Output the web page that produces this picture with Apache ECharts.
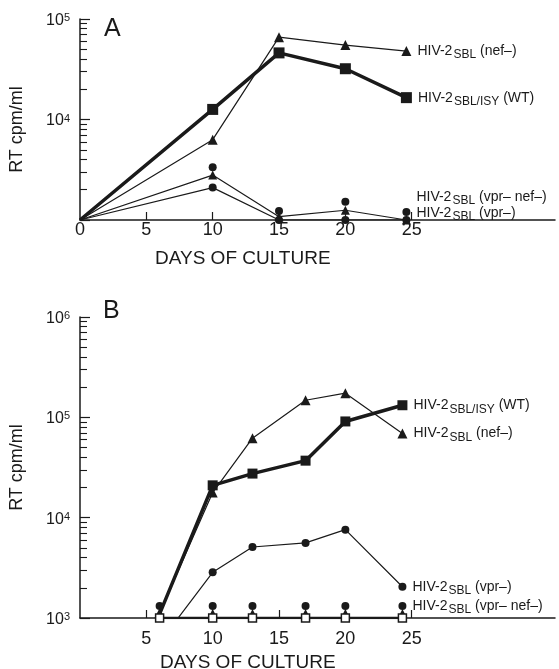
<!DOCTYPE html>
<html>
<head>
<meta charset="utf-8">
<script src="https://cdn.jsdelivr.net/npm/echarts@6/dist/echarts.min.js"></script>
<style>
html,body{margin:0;padding:0;background:#fff;}
#chart{width:559px;height:669px;}
</style>
</head>
<body>
<div id="chart"></div>
<script>
// ---------- Panel A data ----------
const daysA = [0, 10, 15, 20, 24.6];
const aWT = [1000, 12600, 46000, 32000, 16500];
const aNef = [1000, 6300, 66000, 55000, 48000];
const aVprNefLine = [1000, 2800, 1080, 1250, 1000];
const aVprNefPts = [null, 3350, 1230, 1520, 1200];
const aVpr = [1000, 2100, 1000, 1000, 1000];

// ---------- Panel B data ----------
const daysB = [6, 10, 13, 17, 20, 24.3];
const bWT = [1100, 21000, 27500, 37000, 91000, 132000];
const bNef = [1120, 17800, 62000, 148000, 174000, 69000];
const bVpr = [570, 2850, 5100, 5600, 7600, 2050];
const bVprNef = [1320, 1320, 1320, 1320, 1320, 1320];
const bTri = [1120, 1120, 1120, 1120, 1120, 1120];
const bOpen = [1000, 1000, 1000, 1000, 1000, 1000];

// ---------- ticks ----------
const xLabelsA = [0, 5, 10, 15, 20, 25];
const xLabelsB = [5, 10, 15, 20, 25];
const xTicks = [5, 10, 15, 20, 25];
const expA = [4, 5];
const expB = [3, 4, 5, 6];
const minorMult = [2, 3, 4, 5, 6, 7, 8, 9];

const INK = '#1a1a1a';
const FONT = "'Liberation Sans', Arial, Helvetica, sans-serif";

function minorTicks(lo, hi) {
  const out = [];
  for (let e = lo; e < hi; e++) minorMult.forEach(m => out.push(e + Math.log10(m)));
  return out;
}
function pairs(xs, ys, noSymbolFirst) {
  const out = [];
  xs.forEach((x, i) => {
    if (ys[i] == null) return;
    const item = { value: [x, ys[i]] };
    if (noSymbolFirst && i === 0) item.symbol = 'none';
    out.push(item);
  });
  return out;
}
function hiv(sub, tag) {
  return '{a|HIV-2}{s|' + sub + '}{t| ' + tag + '}';
}
const labelRich = {
  a: { fontSize: 14, color: INK, fontFamily: FONT, verticalAlign: 'bottom' },
  s: { fontSize: 12, color: INK, fontFamily: FONT, verticalAlign: 'bottom', padding: [0, 0, -3, 1] },
  t: { fontSize: 14, color: INK, fontFamily: FONT, verticalAlign: 'bottom' }
};
function withEndLabel(data, text, offset, dist) {
  const last = data[data.length - 1];
  last.label = {
    show: true, position: 'right', distance: dist == null ? 6 : dist,
    offset: offset || [0, 0], formatter: text, rich: labelRich
  };
  return data;
}

function xAxis(grid, labels, margin) {
  return {
    type: 'value', gridIndex: grid, min: 0, max: 35.8,
    axisLine: { onZero: false, lineStyle: { color: INK, width: 1.5 } },
    axisTick: { inside: true, length: 8, customValues: xTicks, lineStyle: { color: INK, width: 1.2 } },
    axisLabel: { customValues: labels, fontSize: 18, color: INK, fontFamily: FONT, margin: margin },
    splitLine: { show: false }
  };
}
function logAxis(grid, min, max) {
  return { type: 'log', gridIndex: grid, min: min, max: max, logBase: 10, show: false, position: 'left' };
}
function labelAxis(grid, lo, hi, exps, nameStyle) {
  return {
    type: 'value', gridIndex: grid, min: lo, max: hi, interval: 1, position: 'left',
    name: 'RT cpm/ml', nameLocation: 'middle', nameGap: 54,
    nameTextStyle: Object.assign({ fontSize: 18, color: INK, fontFamily: FONT }, nameStyle || {}),
    axisLine: { show: true, lineStyle: { color: INK, width: 1.5 } },
    axisTick: { inside: true, length: 10, lineStyle: { color: INK, width: 1.2 } },
    axisLabel: {
      margin: 10, color: INK,
      formatter: v => exps.indexOf(v) < 0 ? '' : '{b|10}{e|' + v + '}',
      rich: {
        b: { fontSize: 16, fontFamily: FONT, color: INK, verticalAlign: 'bottom', padding: [0, 0, -3, 0] },
        e: { fontSize: 11, fontFamily: FONT, color: INK, verticalAlign: 'top' }
      }
    },
    splitLine: { show: false }
  };
}
function minorAxis(grid, lo, hi) {
  return {
    type: 'value', gridIndex: grid, min: lo, max: hi, position: 'left',
    axisLine: { show: false },
    axisTick: { show: true, inside: true, length: 7, customValues: minorTicks(lo, hi), lineStyle: { color: INK, width: 1.1 } },
    axisLabel: { show: false }, splitLine: { show: false }
  };
}
function lineSeries(xi, yi, data, symbol, size, width, z) {
  return {
    type: 'line', xAxisIndex: xi, yAxisIndex: yi, data: data,
    symbol: symbol, symbolSize: size, showSymbol: true,
    lineStyle: { color: INK, width: width }, itemStyle: { color: INK },
    emphasis: { disabled: true }, animation: false, z: z || 2
  };
}
function scatterSeries(xi, yi, data, symbol, size, z) {
  return {
    type: 'scatter', xAxisIndex: xi, yAxisIndex: yi, data: data,
    symbol: symbol, symbolSize: size, itemStyle: { color: INK, opacity: 1 },
    emphasis: { disabled: true }, animation: false, z: z || 3
  };
}

const chart = echarts.init(document.getElementById('chart'), null, { renderer: 'canvas' });
chart.setOption({
  backgroundColor: '#fff',
  animation: false,
  title: [
    { text: 'A', left: 99, top: 12, textStyle: { fontSize: 25, fontWeight: 'normal', color: INK, fontFamily: FONT } },
    { text: 'DAYS OF CULTURE', left: 150, top: 244, textStyle: { fontSize: 19, fontWeight: 'normal', color: INK, fontFamily: FONT } },
    { text: 'B', left: 98, top: 294, textStyle: { fontSize: 25, fontWeight: 'normal', color: INK, fontFamily: FONT } },
    { text: 'DAYS OF CULTURE', left: 155, top: 648, textStyle: { fontSize: 19, fontWeight: 'normal', color: INK, fontFamily: FONT } }
  ],
  grid: [
    { left: 79, top: 19, width: 476, height: 201 },
    { left: 79, top: 317, width: 476, height: 301 }
  ],
  xAxis: [xAxis(0, xLabelsA, 1), xAxis(1, xLabelsB, 12)],
  yAxis: [
    logAxis(0, 1000, 100000),
    labelAxis(0, 3, 5, expA, { padding: [0, 20, 0, 0] }),
    minorAxis(0, 3, 5),
    logAxis(1, 1000, 1000000),
    labelAxis(1, 3, 6, expB),
    minorAxis(1, 3, 6)
  ],
  series: [
    // Panel A
    lineSeries(0, 0, withEndLabel(pairs(daysA, aNef, true), hiv('SBL', '(nef–)')), 'triangle', 10, 1.2),
    lineSeries(0, 0, withEndLabel(pairs(daysA, aWT, true), hiv('SBL/ISY', '(WT)')), 'rect', 11, 3.5, 4),
    lineSeries(0, 0, pairs(daysA, aVprNefLine, true), 'triangle', 9, 1.2),
    scatterSeries(0, 0, withEndLabel(pairs(daysA, aVprNefPts, false), hiv('SBL', '(vpr– nef–)'), [0, -15]), 'circle', 8),
    lineSeries(0, 0, withEndLabel(pairs(daysA, aVpr, true), hiv('SBL', '(vpr–)'), [0, -7]), 'circle', 8, 1.2),
    // Panel B
    lineSeries(1, 3, withEndLabel(pairs(daysB, bNef, false), hiv('SBL', '(nef–)')), 'triangle', 10, 1.2),
    lineSeries(1, 3, withEndLabel(pairs(daysB, bWT, true), hiv('SBL/ISY', '(WT)')), 'rect', 10, 3.5, 4),
    lineSeries(1, 3, withEndLabel(pairs(daysB, bVpr, true), hiv('SBL', '(vpr–)')), 'circle', 8, 1.2),
    scatterSeries(1, 3, withEndLabel(pairs(daysB, bVprNef, false), hiv('SBL', '(vpr– nef–)')), 'circle', 8),
    scatterSeries(1, 3, pairs(daysB, bTri, false), 'triangle', 8),
    {
      type: 'line', xAxisIndex: 1, yAxisIndex: 3, data: pairs(daysB, bOpen, false),
      symbol: 'rect', symbolSize: 8, showSymbol: true,
      lineStyle: { color: INK, width: 2.5 },
      itemStyle: { color: '#fff', borderColor: INK, borderWidth: 1.5 },
      emphasis: { disabled: true }, animation: false, z: 5
    }
  ]
});
</script>
</body>
</html>
